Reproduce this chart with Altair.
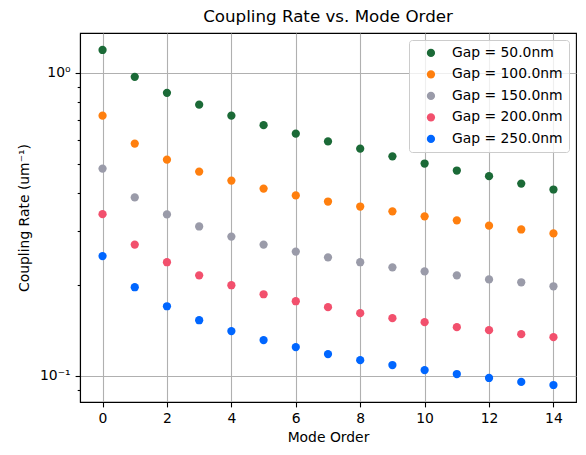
import altair as alt
import pandas as pd

modes = list(range(15))
gaps = ["Gap = 50.0nm", "Gap = 100.0nm", "Gap = 150.0nm", "Gap = 200.0nm", "Gap = 250.0nm"]
colors = ["#1b6a37", "#ff7f0e", "#9a9ba9", "#f2506d", "#0066ff"]

gap50 = [1.190, 0.970, 0.859, 0.785, 0.722, 0.672, 0.630, 0.594, 0.562, 0.530, 0.502, 0.476, 0.456, 0.431, 0.412]
gap100 = [0.722, 0.584, 0.517, 0.472, 0.441, 0.415, 0.394, 0.376, 0.362, 0.349, 0.336, 0.326, 0.313, 0.304, 0.295]
gap150 = [0.483, 0.388, 0.341, 0.311, 0.288, 0.271, 0.257, 0.246, 0.237, 0.228, 0.221, 0.2146, 0.208, 0.2035, 0.1974]
gap200 = [0.3415, 0.271, 0.237, 0.2146, 0.199, 0.1858, 0.1762, 0.1684, 0.1609, 0.1549, 0.1503, 0.1447, 0.1414, 0.1372, 0.1341]
gap250 = [0.2484, 0.196, 0.1696, 0.1525, 0.1404, 0.1311, 0.1243, 0.1179, 0.1126, 0.1085, 0.1044, 0.1013, 0.0983, 0.0954, 0.0932]

series = [gap50, gap100, gap150, gap200, gap250]
rows = []
for g, vals in zip(gaps, series):
    for m, v in zip(modes, vals):
        rows.append({"mode": m, "rate": v, "gap": g})
df = pd.DataFrame(rows)

y_ticks = [0.09, 0.1, 0.2, 0.3, 0.4, 0.5, 0.6, 0.7, 0.8, 0.9, 1.0]
x_ticks = [0, 2, 4, 6, 8, 10, 12, 14]
major = "datum.value == 1 || datum.value == 0.1"

chart = alt.Chart(df).mark_circle(size=68, opacity=1).encode(
    x=alt.X("mode:Q",
            scale=alt.Scale(domain=[-0.7, 14.7], nice=False, zero=False),
            axis=alt.Axis(values=x_ticks, title="Mode Order", format="d")),
    y=alt.Y("rate:Q",
            scale=alt.Scale(type="log", domain=[0.0819, 1.354], nice=False),
            axis=alt.Axis(values=y_ticks, title="Coupling Rate (um\u207b\u00b9)",
                          labelExpr="datum.value == 1 ? '10\u2070' : (datum.value == 0.1 ? '10\u207b\u00b9' : '')",
                          gridOpacity={"condition": {"test": major, "value": 1}, "value": 0},
                          tickSize={"condition": {"test": major, "value": 4.9}, "value": 2.8})),
    color=alt.Color("gap:N", sort=gaps,
                    scale=alt.Scale(domain=gaps, range=colors),
                    legend=alt.Legend(title=None, orient="top-right", offset=7)),
).properties(
    width=496, height=369,
    title=alt.TitleParams("Coupling Rate vs. Mode Order", fontSize=16.7, font="DejaVu Sans",
                          fontWeight="normal", color="black", offset=7),
    autosize=alt.AutoSizeParams(type="none"),
    padding={"left": 80, "top": 33, "right": 10, "bottom": 53},
).configure_view(
    stroke="black", strokeWidth=1.1
).configure_axis(
    labelFont="DejaVu Sans", titleFont="DejaVu Sans", labelFontSize=13.9, titleFontSize=13.9,
    labelColor="black", titleColor="black", titleFontWeight="normal",
    domainColor="black", domainWidth=1.1, tickColor="black", tickWidth=1.1,
    gridColor="#b0b0b0", gridWidth=1.1, labelPadding=5,
).configure_axisX(
    tickSize=4.9, titlePadding=5
).configure_axisY(
    titlePadding=8
).configure_legend(
    labelFont="DejaVu Sans", labelFontSize=13.9, labelColor="black",
    symbolSize=68, symbolType="circle", labelOffset=14, symbolOffset=9,
    rowPadding=6.5, padding=6, fillColor="rgba(255,255,255,0.8)", strokeColor="#cccccc",
    cornerRadius=3,
)

chart.save("out.html", embed_options={"renderer": "svg", "actions": False})
